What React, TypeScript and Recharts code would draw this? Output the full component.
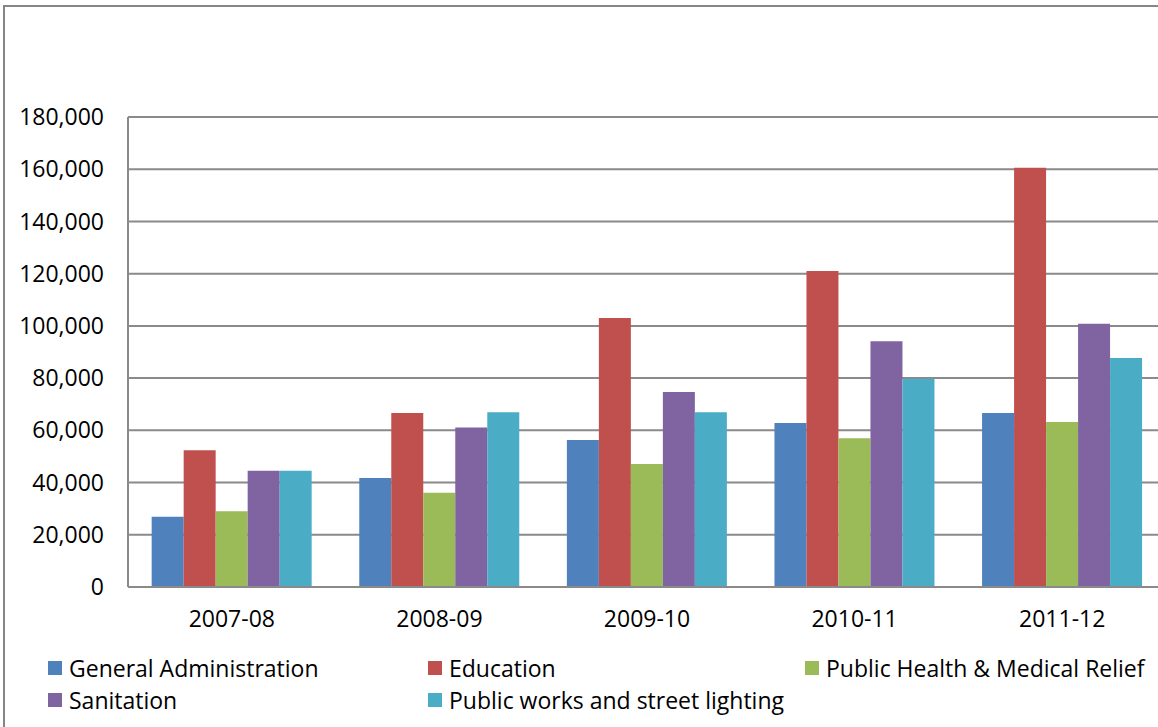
import React from 'react';
import { BarChart, Bar, XAxis, YAxis, CartesianGrid } from 'recharts';

const years = ['2007-08', '2008-09', '2009-10', '2010-11', '2011-12'];
const generalAdministration = [26900, 41700, 56300, 62800, 66600];
const education = [52400, 66600, 103000, 121000, 160600];
const publicHealth = [29000, 36100, 47100, 57000, 63200];
const sanitation = [44500, 61100, 74700, 94100, 100800];
const publicWorks = [44500, 66900, 66900, 79800, 87700];
const yTicks = [0, 20000, 40000, 60000, 80000, 100000, 120000, 140000, 160000, 180000];

const series = [
    { key: 'ga', name: 'General Administration', color: '#4F81BD', values: generalAdministration },
    { key: 'edu', name: 'Education', color: '#C0504D', values: education },
    { key: 'ph', name: 'Public Health & Medical Relief', color: '#9BBB59', values: publicHealth },
    { key: 'san', name: 'Sanitation', color: '#8064A2', values: sanitation },
    { key: 'pw', name: 'Public works and street lighting', color: '#4BACC6', values: publicWorks },
];

const data = years.map((year, i) => {
    const row: any = { year };
    series.forEach(s => { row[s.key] = s.values[i]; });
    return row;
});

const FONT = '"Open Sans", "Noto Sans", sans-serif';
const FONT_SIZE = 23;

// legend columns laid out like the spreadsheet: 3 per row
const legendCols = [48, 428, 805];

export default function App() {
    return (
        <div style={{ position: 'absolute', left: 0, top: 0, width: 1158, height: 727, overflow: 'hidden', background: '#fff' }}>
            <div style={{
                position: 'absolute', left: 3, top: 5, width: 1200, height: 800,
                border: '2px solid #868686', boxSizing: 'border-box'
            }} />
            <div style={{ position: 'absolute', left: 0, top: 0 }}>
                <BarChart
                    width={1166}
                    height={727}
                    data={data}
                    margin={{ top: 117, right: 0, left: 0, bottom: 139 }}
                    barGap={0}
                    barCategoryGap="11.4%"
                >
                    <CartesianGrid vertical={false} stroke="#8a8a8a" strokeWidth={2} />
                    <XAxis
                        dataKey="year"
                        axisLine={{ stroke: '#8a8a8a', strokeWidth: 2 }}
                        tickLine={false}
                        tickSize={0}
                        tickMargin={24}
                        tick={{ fill: '#000', fontSize: FONT_SIZE, fontFamily: FONT }}
                        height={1}
                    />
                    <YAxis
                        domain={[0, 180000]}
                        ticks={yTicks}
                        interval={0}
                        width={128}
                        axisLine={{ stroke: '#8a8a8a', strokeWidth: 2 }}
                        tickLine={false}
                        tickSize={0}
                        tickMargin={24}
                        tick={{ fill: '#000', fontSize: FONT_SIZE, fontFamily: FONT }}
                        tickFormatter={(v: number) => v.toLocaleString('en-US')}
                    />
                    {series.map(s => (
                        <Bar key={s.key} dataKey={s.key} name={s.name} fill={s.color} isAnimationActive={false} />
                    ))}
                </BarChart>
            </div>
            <div style={{ position: 'absolute', left: 0, top: 652, width: 1158, height: 70, fontFamily: FONT, fontSize: FONT_SIZE, color: '#000' }}>
                {series.map((s, i) => (
                    <div key={s.key} style={{
                        position: 'absolute',
                        left: legendCols[i % 3],
                        top: Math.floor(i / 3) * 32,
                        display: 'flex',
                        alignItems: 'center',
                        whiteSpace: 'nowrap',
                        lineHeight: '32px'
                    }}>
                        <span style={{ display: 'inline-block', width: 14, height: 14, background: s.color, marginRight: 7 }} />
                        <span>{s.name}</span>
                    </div>
                ))}
            </div>
        </div>
    );
}
